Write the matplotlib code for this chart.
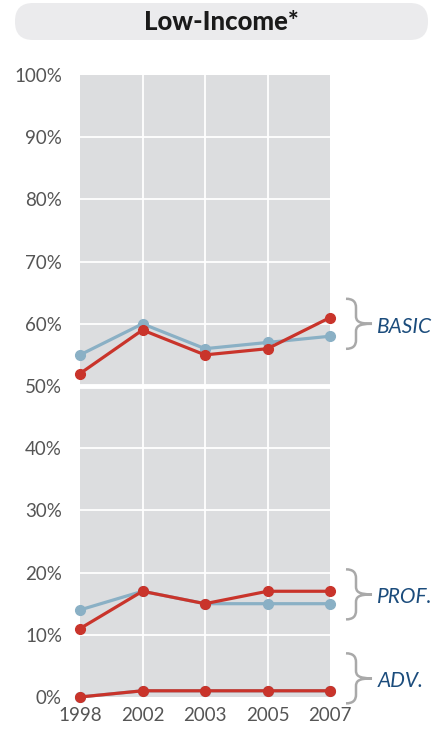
import matplotlib
matplotlib.use("Agg")
import matplotlib.pyplot as plt
from matplotlib.patches import FancyBboxPatch, PathPatch
from matplotlib.path import Path
from matplotlib.transforms import Affine2D

# --- DATA ---
years = ["1998", "2002", "2003", "2005", "2007"]
basic_blue = [55, 60, 56, 57, 58]
basic_red = [52, 59, 55, 56, 61]
prof_blue = [14, 17, 15, 15, 15]
prof_red = [11, 17, 15, 17, 17]
adv_blue = [0, 1, 1, 1, 1]
adv_red = [0, 1, 1, 1, 1]
yticks = list(range(0, 101, 10))
group_labels = ["BASIC", "PROF.", "ADV."]
group_centers = [60, 16.5, 3]

TITLE = "Low-Income*"

# --- STYLE ---
RED = "#c9342b"
BLUE = "#8ab0c5"
GRAY_BG = "#dcdddf"
LABEL_BLUE = "#1b4c7c"
TICK_COLOR = "#555555"
BRACE_COLOR = "#a9a9a9"
W, H = 441, 730

plt.rcParams["font.family"] = ["Lato", "DejaVu Sans"]

fig = plt.figure(figsize=(W / 100, H / 100), dpi=100)

# overlay axes in pixel units for title box
ov = fig.add_axes([0, 0, 1, 1])
ov.set_xlim(0, W)
ov.set_ylim(H, 0)
ov.axis("off")
ov.add_patch(FancyBboxPatch((15, 3), 413, 37,
                            boxstyle="round,pad=0,rounding_size=18",
                            facecolor="#ebebed", edgecolor="none"))
ov.text(221.5, 22, TITLE, ha="center", va="center", fontsize=18.5,
        fontweight="black", color="#1a1a1a")

# main chart
ax = fig.add_axes([80 / W, 33 / H, 250 / W, 622 / H])
ax.set_facecolor(GRAY_BG)
x = list(range(len(years)))
ax.set_xlim(0, len(years) - 1)
ax.set_ylim(0, 100)

for v in yticks[1:-1]:
    ax.axhline(v, color="white", lw=3.5 if v == 50 else 1.3, zorder=1)
for xi in x[1:-1]:
    ax.axvline(xi, color="white", lw=1.3, zorder=1)

series = [(basic_blue, BLUE), (prof_blue, BLUE), (adv_blue, BLUE),
          (basic_red, RED), (prof_red, RED), (adv_red, RED)]
for vals, col in series:
    ax.plot(x, vals, color=col, lw=2.3, marker="o", markersize=7,
            clip_on=False, zorder=3)

for s in ax.spines.values():
    s.set_visible(False)
ax.set_xticks(x)
ax.set_xticklabels(years)
ax.set_yticks(yticks)
ax.set_yticklabels([f"{v}%" for v in yticks])
ax.tick_params(length=0, labelsize=13.5, labelcolor=TICK_COLOR, pad=7)
ax.tick_params(axis="y", pad=13)

# brace shape in pixels, relative to its anchor (left side, vertical centre)
h = 25
brace_verts = [(0, h), (7, h), (10, h - 3), (10, h - 9),
               (10, 8), (10, 3), (12, 0), (26, 0),
               (12, 0), (10, -3), (10, -8),
               (10, -h + 9), (10, -h + 3), (7, -h), (0, -h)]
brace_codes = [Path.MOVETO, Path.CURVE4, Path.CURVE4, Path.CURVE4,
               Path.LINETO, Path.CURVE4, Path.CURVE4, Path.CURVE4,
               Path.CURVE4, Path.CURVE4, Path.CURVE4,
               Path.LINETO, Path.CURVE4, Path.CURVE4, Path.CURVE4]
brace = Path(brace_verts, brace_codes)

for name, c in zip(group_labels, group_centers):
    x0, y0 = ax.transAxes.transform((1.0, 0))[0], ax.transData.transform((0, c))[1]
    tr = Affine2D().translate(x0 + 16, y0)
    fig.add_artist(PathPatch(brace, transform=tr, facecolor="none",
                             edgecolor=BRACE_COLOR, lw=1.8))
    ax.annotate(name, xy=(1.0, c), xycoords=("axes fraction", "data"),
                xytext=(34, -2), textcoords="offset points",
                ha="left", va="center", fontsize=15, style="italic",
                color=LABEL_BLUE, annotation_clip=False)

fig.savefig("out.png", dpi=100)
